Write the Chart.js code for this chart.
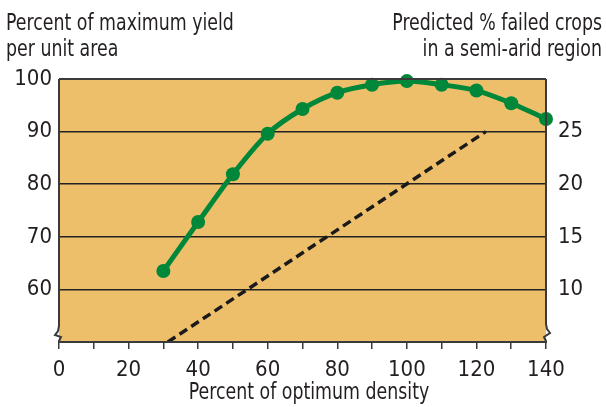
<!DOCTYPE html>
<html>
<head>
<meta charset="utf-8">
<script src="https://cdn.jsdelivr.net/npm/chart.js@4.4.1/dist/chart.umd.min.js"></script>
<style>
  html, body { margin: 0; padding: 0; background: #fff; }
  canvas { display: block; }
</style>
</head>
<body>
<canvas id="myChart" width="606" height="407"></canvas>
<script>
// ----DATA----
const density = [30, 40, 50, 60, 70, 80, 90, 100, 110, 120, 130, 140];
const yieldPct = [63.5, 72.8, 81.9, 89.6, 94.3, 97.4, 98.9, 99.6, 98.9, 97.8, 95.4, 92.4];
const failX = [31.3, 122.7];
const failPct = [5, 25];
const xTicks = [0, 20, 40, 60, 80, 100, 120, 140];
const leftTicks = [60, 70, 80, 90, 100];
const rightTicks = [10, 15, 20, 25];

const FONT = "'Liberation Sans Narrow', 'DejaVu Sans Condensed', 'Arial Narrow', sans-serif";
const TEXT = '#231f20';
const GREEN = '#00873a';

//----PLUGINS----
const plotBack = {
  id: 'plotBack',
  beforeDraw(chart) {
    const { ctx, chartArea: { top, bottom, left, right } } = chart;
    ctx.save();
    ctx.fillStyle = '#eebf6a';
    ctx.fillRect(left, top, right - left, bottom - top);
    ctx.restore();
  }
};

// narrow text: squeeze horizontally around the anchor point
function narrowText(ctx, str, x, y, align, squeeze) {
  ctx.save();
  ctx.translate(x, y);
  ctx.scale(squeeze, 1);
  ctx.textAlign = align;
  ctx.fillText(str, 0, 0);
  ctx.restore();
}

// frame with the axis-break zigzags at the bottom corners
const frame = {
  id: 'frame',
  afterDraw(chart) {
    const { ctx, chartArea: { top, bottom, left, right } } = chart;
    ctx.save();
    ctx.strokeStyle = '#3a3a3a';
    ctx.lineWidth = 2;
    ctx.lineJoin = 'miter';
    // top
    ctx.beginPath();
    ctx.moveTo(left, top);
    ctx.lineTo(right, top);
    ctx.stroke();
    // left side
    ctx.beginPath();
    ctx.moveTo(left, top);
    ctx.lineTo(left, bottom - 16);
    ctx.lineTo(left - 1, bottom - 11);
    ctx.lineTo(left - 4, bottom - 7);
    ctx.lineTo(left + 2, bottom - 5);
    ctx.lineTo(left, bottom - 1);
    ctx.lineTo(left, bottom);
    ctx.stroke();
    // right side
    ctx.beginPath();
    ctx.moveTo(right, top);
    ctx.lineTo(right, bottom - 18);
    ctx.lineTo(right + 1, bottom - 13);
    ctx.lineTo(right + 4, bottom - 9);
    ctx.lineTo(right - 2, bottom - 5);
    ctx.lineTo(right, bottom - 1);
    ctx.lineTo(right, bottom);
    ctx.stroke();
    // bottom
    ctx.beginPath();
    ctx.moveTo(left - 1, bottom);
    ctx.lineTo(right + 1, bottom);
    ctx.stroke();

    // axis titles
    ctx.fillStyle = TEXT;
    ctx.font = '23px ' + FONT;
    ctx.textBaseline = 'alphabetic';
    narrowText(ctx, 'Percent of maximum yield', 6, 30, 'left', 0.84);
    narrowText(ctx, 'per unit area', 6, 56, 'left', 0.84);
    narrowText(ctx, 'Predicted % failed crops', 602, 30, 'right', 0.84);
    narrowText(ctx, 'in a semi-arid region', 602, 56, 'right', 0.84);
    narrowText(ctx, 'Percent of optimum density', 309, 399, 'center', 0.84);
    ctx.restore();
  }
};

//----CONFIG----
const config = {
  type: 'line',
  data: {
    datasets: [{
      label: 'Yield',
      data: density.map((d, i) => ({ x: d, y: yieldPct[i] })),
      yAxisID: 'y',
      borderColor: GREEN,
      backgroundColor: GREEN,
      borderWidth: 5,
      pointRadius: 7,
      pointHoverRadius: 7,
      pointBorderWidth: 0,
      cubicInterpolationMode: 'monotone',
      clip: false,
      order: 1
    }, {
      label: 'Failed crops',
      data: failX.map((d, i) => ({ x: d, y: failPct[i] })),
      yAxisID: 'y2',
      borderColor: '#1a1a1a',
      borderWidth: 3.5,
      borderDash: [9, 5],
      pointRadius: 0,
      order: 2
    }]
  },
  options: {
    responsive: false,
    animation: false,
    layout: { padding: { top: 79, bottom: 0, left: 0, right: 0 } },
    scales: {
      x: {
        type: 'linear',
        min: 0, max: 140,
        afterBuildTicks: (axis) => { axis.ticks = []; for (let v = 0; v <= 140; v += 10) axis.ticks.push({ value: v }); },
        afterFit: (axis) => { axis.height = 65; },
        grid: { drawOnChartArea: false, drawTicks: true, tickLength: 7, color: '#3a3a3a', lineWidth: 1.5 },
        border: { display: false },
        ticks: {
          color: TEXT, font: { family: FONT, size: 22 }, padding: 8, maxRotation: 0, autoSkip: false,
          callback: (v) => xTicks.includes(v) ? String(v) : ''
        }
      },
      y: {
        position: 'left',
        min: 50, max: 100,
        afterBuildTicks: (axis) => { axis.ticks = [50, 60, 70, 80, 90, 100].map(v => ({ value: v })); },
        afterFit: (axis) => { axis.width = 59; },
        grid: { drawTicks: false, color: '#222', lineWidth: 1.5 },
        border: { display: false },
        ticks: {
          color: TEXT, font: { family: FONT, size: 22 }, padding: 7,
          callback: (v) => leftTicks.includes(v) ? String(v) : ''
        }
      },
      y2: {
        position: 'right',
        min: 5, max: 30,
        afterBuildTicks: (axis) => { axis.ticks = rightTicks.map(v => ({ value: v })); },
        afterFit: (axis) => { axis.width = 60; },
        grid: { display: false, drawTicks: false },
        border: { display: false },
        ticks: { color: TEXT, font: { family: FONT, size: 22 }, padding: 12 }
      }
    },
    plugins: {
      legend: { display: false },
      tooltip: { enabled: false }
    }
  },
  plugins: [plotBack, frame]
};

const myChart = new Chart(document.getElementById('myChart'), config);
</script>
</body>
</html>
